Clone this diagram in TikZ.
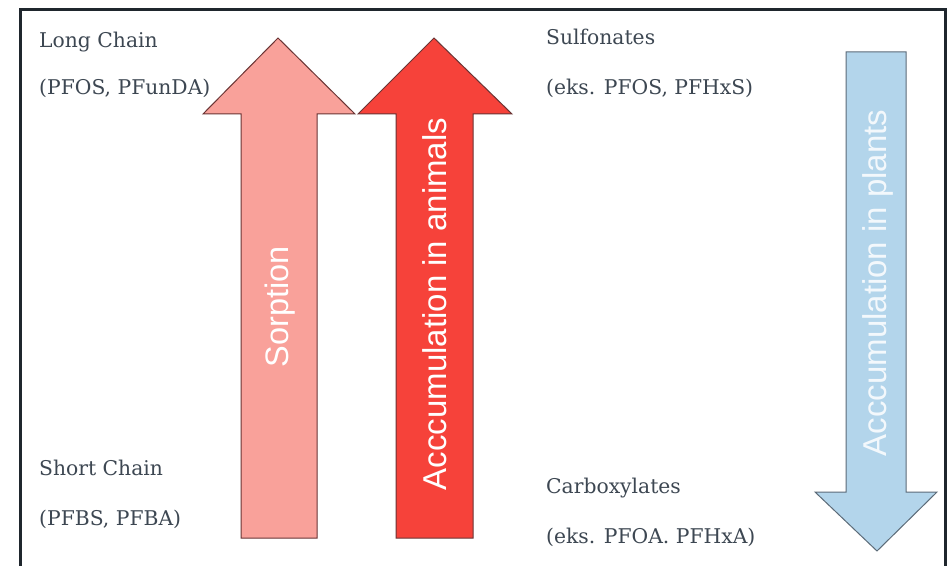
\documentclass[tikz,border=0pt]{standalone}
\usepackage{fontspec}
\setmainfont{DejaVu Serif}
\newfontfamily\arrowfont{Liberation Sans}
\definecolor{txt}{HTML}{3D4752}
\definecolor{frame}{HTML}{1F262D}
\definecolor{sorp}{HTML}{F9A19A}
\definecolor{anim}{HTML}{F6423A}
\definecolor{plant}{HTML}{B3D5EB}
\definecolor{redline}{HTML}{6A3434}
\definecolor{blueline}{HTML}{5C6B78}
\begin{document}
\begin{tikzpicture}[x=1pt,y=1pt,
  lbl/.style={anchor=base west,inner sep=0pt,text=txt,font=\fontsize{20.3}{24}\selectfont},
  arrtxt/.style={rotate=90,inner sep=0pt,text=white,font=\arrowfont\fontsize{33}{38}\selectfont},
  arrowshape/.style={line width=1pt,line join=miter}]
\useasboundingbox (0,0) rectangle (950,565);
\fill[white] (0,0) rectangle (950,565);
% frame
\draw[frame,line width=3pt] (20,-5) -- (20,555) -- (945,555) -- (945,-5);
% arrows
\draw[arrowshape,fill=sorp,draw=redline] (241,27) -- (241,451) -- (203,451) -- (278,527) -- (355,451) -- (317,451) -- (317,27) -- cycle;
\draw[arrowshape,fill=anim,draw=redline] (396,27) -- (396,451) -- (358,451) -- (434,527) -- (512,451) -- (473,451) -- (473,27) -- cycle;
\draw[arrowshape,fill=plant,draw=blueline] (846,513) -- (906,513) -- (906,73) -- (937,73) -- (877,14) -- (815,73) -- (846,73) -- cycle;
% arrow labels
\node[arrtxt,font=\arrowfont\fontsize{32.5}{38}\selectfont] (sorption) at (280,258) {Sorption};
\node[arrtxt] (animals) at (435,261) {Acccumulation in animals};
\node[arrtxt,text opacity=0.85] (plants) at (878,282) {Acccumulation in plants};
% side labels
\node[lbl] (long) at (39,517) {Long Chain};
\node[lbl] (longex) at (39,470) {(PFOS, PFunDA)};
\node[lbl] (short) at (39,90) {Short Chain};
\node[lbl] (shortex) at (39,40) {(PFBS, PFBA)};
\node[lbl] (sulf) at (546,520) {Sulfonates};
\node[lbl] (sulfex) at (546,470) {(eks. PFOS, PFHxS)};
\node[lbl] (carb) at (546,72) {Carboxylates};
\node[lbl] (carbex) at (546,22) {(eks. PFOA. PFHxA)};
\end{tikzpicture}
\end{document}
